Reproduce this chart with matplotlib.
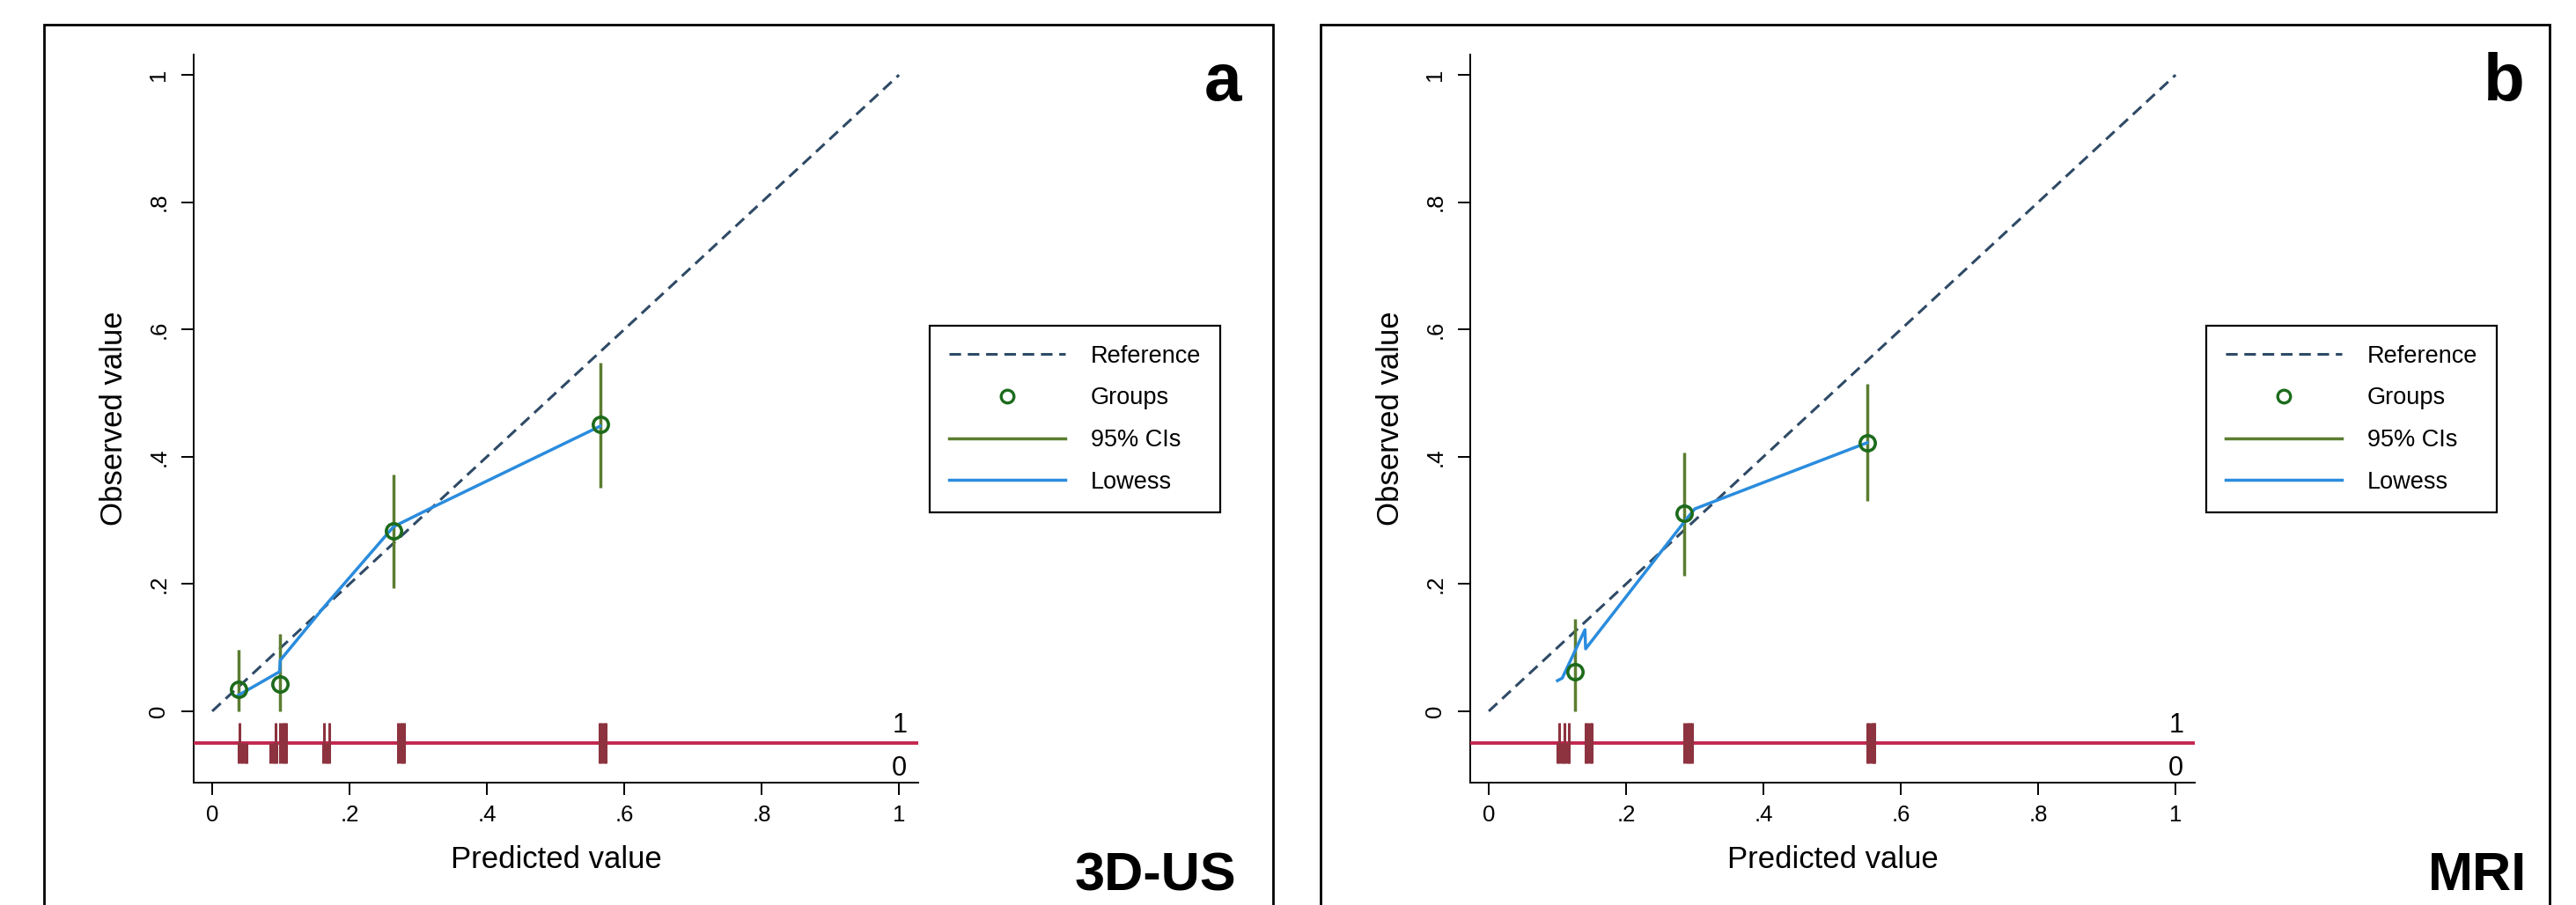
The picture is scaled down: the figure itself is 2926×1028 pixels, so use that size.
import matplotlib
matplotlib.use("Agg")
import matplotlib.pyplot as plt
from matplotlib.lines import Line2D
from matplotlib.patches import Rectangle

plt.rcParams['font.family'] = ['Liberation Sans', 'DejaVu Sans']

# ---------------- data ----------------
ticks = [0, 0.2, 0.4, 0.6, 0.8, 1]
tick_labels = ['0', '.2', '.4', '.6', '.8', '1']
ref_x = [0, 1]
ref_y = [0, 1]

# Panel a: 3D-US
a_group_x = [0.038, 0.098, 0.264, 0.565]
a_group_y = [0.035, 0.043, 0.283, 0.451]
a_ci_lo = [0.0, 0.0, 0.193, 0.351]
a_ci_hi = [0.097, 0.121, 0.372, 0.548]
a_lowess_x = [0.038, 0.098, 0.099, 0.163, 0.264, 0.320, 0.565]
a_lowess_y = [0.025, 0.062, 0.080, 0.164, 0.290, 0.320, 0.448]
a_rug1 = [0.040, 0.092, 0.099, 0.102, 0.105, 0.108, 0.163, 0.171,
          0.271, 0.274, 0.277, 0.280, 0.564, 0.567, 0.570, 0.573]
a_rug0 = [0.039, 0.042, 0.045, 0.048, 0.050, 0.085, 0.088, 0.091, 0.093,
          0.099, 0.102, 0.105, 0.108, 0.162, 0.165, 0.168, 0.171,
          0.271, 0.274, 0.277, 0.280, 0.564, 0.567, 0.570, 0.573]

# Panel b: MRI
b_group_x = [0.126, 0.284, 0.551]
b_group_y = [0.062, 0.311, 0.422]
b_ci_lo = [0.0, 0.213, 0.330]
b_ci_hi = [0.145, 0.407, 0.515]
b_lowess_x = [0.100, 0.107, 0.140, 0.141, 0.290, 0.300, 0.551]
b_lowess_y = [0.048, 0.052, 0.128, 0.098, 0.305, 0.318, 0.422]
b_rug1 = [0.102, 0.110, 0.117, 0.141, 0.144, 0.147, 0.150,
          0.285, 0.288, 0.291, 0.294, 0.296, 0.551, 0.554, 0.557, 0.560, 0.562]
b_rug0 = [0.100, 0.103, 0.106, 0.109, 0.112, 0.115, 0.117, 0.141, 0.144,
          0.147, 0.150, 0.285, 0.288, 0.291, 0.294, 0.296,
          0.551, 0.554, 0.557, 0.560, 0.562]

panels = [
    dict(letter='a', name='3D-US', gx=a_group_x, gy=a_group_y, lo=a_ci_lo, hi=a_ci_hi,
         lx=a_lowess_x, ly=a_lowess_y, r1=a_rug1, r0=a_rug0, off=0,
         letter_x=1410, name_x=1404),
    dict(letter='b', name='MRI', gx=b_group_x, gy=b_group_y, lo=b_ci_lo, hi=b_ci_hi,
         lx=b_lowess_x, ly=b_lowess_y, r1=b_rug1, r0=b_rug0, off=1450,
         letter_x=2868, name_x=2870),
]

# ---------------- styles ----------------
W, H = 2926, 1028
C_REF = '#2E4A66'
C_GRP = '#1C6B1C'
C_CI = '#5B7D30'
C_LOW = '#2A8CDE'
C_RUGLINE = '#C2274F'
C_RUGTICK = '#8C333F'
REF_DASH = (0, (4.3, 2.5))


def fx(x):
    return x / W


def fy(y):
    return 1 - y / H


fig = plt.figure(figsize=(W / 100, H / 100), dpi=100)

for p in panels:
    off = p['off']
    # panel frame
    fig.add_artist(Rectangle((fx(50 + off), fy(1060)), (1396) / W, (1032) / H,
                             transform=fig.transFigure, fill=False,
                             edgecolor='black', linewidth=2.0, clip_on=False))
    ax = fig.add_axes([fx(220 + off), fy(889), 823 / W, 827 / H])
    ax.set_xlim(-0.027, 1.028)
    ax.set_ylim(-0.1123, 1.032)

    ax.plot(ref_x, ref_y, color=C_REF, lw=2.2, linestyle=REF_DASH, zorder=2)
    ax.vlines(p['gx'], p['lo'], p['hi'], color=C_CI, lw=2.5, zorder=3)
    ax.plot(p['lx'], p['ly'], color=C_LOW, lw=2.5, zorder=4)
    ax.plot(p['gx'], p['gy'], linestyle='none', marker='o', markersize=12.5,
            markerfacecolor='none', markeredgecolor=C_GRP, markeredgewidth=2.6, zorder=5)

    # rug
    ax.axhline(-0.05, color=C_RUGLINE, lw=2.8, zorder=3)
    ax.vlines(p['r1'], -0.05, -0.018, color=C_RUGTICK, lw=2.2, zorder=4)
    ax.vlines(p['r0'], -0.082, -0.05, color=C_RUGTICK, lw=2.2, zorder=4)
    ax.text(1.0115, -0.0222, '1', ha='right', va='center', fontsize=22)
    ax.text(1.0115, -0.090, '0', ha='right', va='center', fontsize=22)

    ax.set_xticks(ticks)
    ax.set_xticklabels(tick_labels)
    ax.set_yticks(ticks)
    ax.set_yticklabels(tick_labels, rotation=90, va='center')
    ax.tick_params(axis='both', length=10, width=1.4, labelsize=18.5, color='black')
    ax.tick_params(axis='x', pad=8)
    ax.tick_params(axis='y', pad=10)
    for s in ['top', 'right']:
        ax.spines[s].set_visible(False)
    for s in ['left', 'bottom']:
        ax.spines[s].set_linewidth(1.4)
    ax.set_xlabel('Predicted value', fontsize=25, labelpad=16)
    ax.set_ylabel('Observed value', fontsize=25, labelpad=16)

    handles = [
        Line2D([], [], color=C_REF, lw=2.2, linestyle=REF_DASH),
        Line2D([], [], linestyle='none', marker='o', markersize=10.5,
               markerfacecolor='none', markeredgecolor=C_GRP, markeredgewidth=2.4),
        Line2D([], [], color=C_CI, lw=2.5),
        Line2D([], [], color=C_LOW, lw=2.5),
    ]
    labels = ['Reference', 'Groups', '95% CIs', 'Lowess']
    leg = ax.legend(handles, labels, loc='upper left',
                    bbox_to_anchor=(fx(1056 + off), fy(370)),
                    bbox_transform=fig.transFigure, borderaxespad=0,
                    fontsize=19.5, handlelength=4.9, handletextpad=1.05,
                    labelspacing=0.8, borderpad=0.8, frameon=True,
                    fancybox=False, framealpha=1, edgecolor='black')
    leg.get_frame().set_linewidth(1.6)

    fig.text(fx(p['letter_x']), fy(114), p['letter'], ha='right', va='baseline',
             fontsize=55, fontweight='bold')
    fig.text(fx(p['name_x']), fy(1011), p['name'], ha='right', va='baseline',
             fontsize=44, fontweight='bold')

fig.savefig('out.png', dpi=100, facecolor='white')
